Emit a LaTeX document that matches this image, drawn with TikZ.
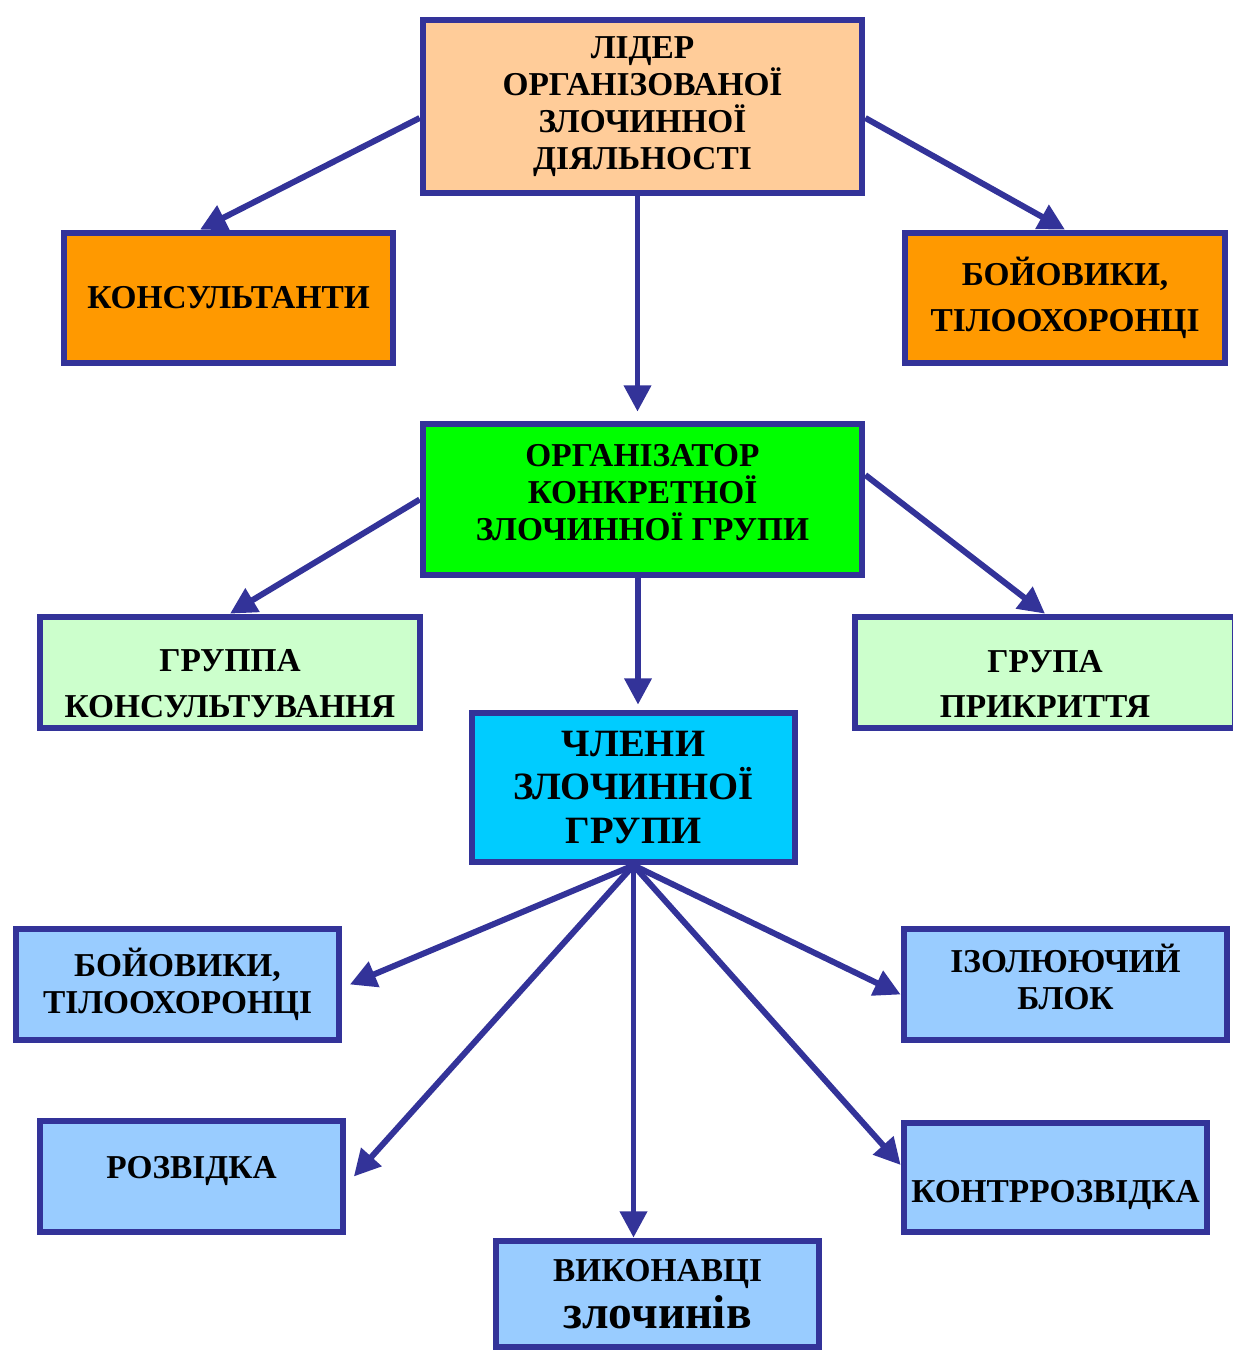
\documentclass[tikz,border=0pt]{standalone}
\usepackage{fontspec}
\setmainfont{Liberation Serif}
\usetikzlibrary{arrows.meta,calc}

\definecolor{frame}{HTML}{333399}
\definecolor{peach}{HTML}{FFCC99}
\definecolor{orng}{HTML}{FF9900}
\definecolor{grn}{HTML}{00FF00}
\definecolor{lgrn}{HTML}{CCFFCC}
\definecolor{cyn}{HTML}{00CCFF}
\definecolor{lblue}{HTML}{99CCFF}

\tikzset{
  box/.style={draw=frame, line width=3.8pt, align=center, inner sep=0pt,
    font=\fontsize{19}{21}\selectfont\bfseries},
  arr/.style={draw=frame, line width=3.4pt,
    -{Triangle[length=15pt,width=15pt]}}
}

\begin{document}
\begin{tikzpicture}
\useasboundingbox (0,0) rectangle (24.64,-27.06);

% top level
\node[box, fill=peach, minimum width=8.78cm, minimum height=3.46cm] (lead) at (12.85,-2.13)
  {ЛІДЕР\\ОРГАНІЗОВАНОЇ\\ЗЛОЧИННОЇ\\ДІЯЛЬНОСТІ};
\node[box, fill=orng, minimum width=6.58cm, minimum height=2.6cm] (cons) at (4.57,-5.96)
  {КОНСУЛЬТАНТИ};
\node[box, fill=orng, minimum width=6.4cm, minimum height=2.6cm,
  font=\fontsize{19}{26}\selectfont\bfseries] (boy1) at (21.3,-5.96)
  {БОЙОВИКИ,\\ТІЛООХОРОНЦІ};

% organizer level
\node[box, fill=grn, minimum width=8.78cm, minimum height=3.02cm] (org) at (12.85,-9.99)
  {ОРГАНІЗАТОР\\КОНКРЕТНОЇ\\ЗЛОЧИННОЇ ГРУПИ\rule[-0.28cm]{0pt}{0pt}};
\node[box, fill=lgrn, minimum width=7.6cm, minimum height=2.22cm,
  font=\fontsize{19}{26}\selectfont\bfseries] (gcons) at (4.6,-13.45)
  {\rule{0pt}{0.9cm}ГРУППА\\КОНСУЛЬТУВАННЯ};
\node[box, fill=lgrn, minimum width=7.6cm, minimum height=2.22cm,
  font=\fontsize{19}{26}\selectfont\bfseries] (gcov) at (20.9,-13.45)
  {\rule{0pt}{0.9cm}ГРУПА\\ПРИКРИТТЯ};

% members
\node[box, fill=cyn, minimum width=6.46cm, minimum height=2.98cm,
  font=\fontsize{22}{24.5}\selectfont\bfseries] (chl) at (12.67,-15.75)
  {ЧЛЕНИ\\ЗЛОЧИННОЇ\\ГРУПИ};

% bottom level
\node[box, fill=lblue, minimum width=6.46cm, minimum height=2.22cm] (boy2) at (3.55,-19.69)
  {БОЙОВИКИ,\\ТІЛООХОРОНЦІ};
\node[box, fill=lblue, minimum width=6.46cm, minimum height=2.22cm] (izol) at (21.31,-19.69)
  {ІЗОЛЮЮЧИЙ\\БЛОК\rule[-0.32cm]{0pt}{0pt}};
\node[box, fill=lblue, minimum width=6.06cm, minimum height=2.22cm] (rozv) at (3.83,-23.53)
  {РОЗВІДКА\rule[-0.36cm]{0pt}{0pt}};
\node[box, fill=lblue, minimum width=6.06cm, minimum height=2.18cm] (kontr) at (21.11,-23.55)
  {\rule{0pt}{1.14cm}КОНТРРОЗВІДКА};
\node[box, fill=lblue, minimum width=6.46cm, minimum height=2.12cm,
  font=\fontsize{19}{27}\selectfont\bfseries] (vyk) at (13.15,-25.88)
  {ВИКОНАВЦІ\\{\fontsize{27}{27}\selectfont злочинів}};

% arrows
\draw[arr] ([yshift=-0.23cm]lead.west) -- ([xshift=-0.57cm]cons.north);
\draw[arr] ([xshift=-0.1cm]lead.south) -- ([xshift=-0.1cm,yshift=0.18cm]org.north);
\draw[arr] ([yshift=-0.23cm]lead.east) -- (boy1.north);
\draw[arr] (org.west) -- (gcons.north);
\draw[arr] ([xshift=0.09cm]chl.north |- org.south) -- ([xshift=0.09cm,yshift=0.1cm]chl.north);
\draw[arr] ([yshift=0.49cm]org.east) -- (gcov.north);
\draw[arr] (chl.south) -- ([xshift=0.15cm]boy2.east);
\draw[arr] (chl.south) -- ([xshift=0.15cm]rozv.east);
\draw[arr] (chl.south) -- (chl.south |- vyk.north);
\draw[arr] (chl.south) -- ([yshift=-0.2cm]izol.west);
\draw[arr] (chl.south) -- ([yshift=0.25cm]kontr.west);
\end{tikzpicture}
\end{document}
